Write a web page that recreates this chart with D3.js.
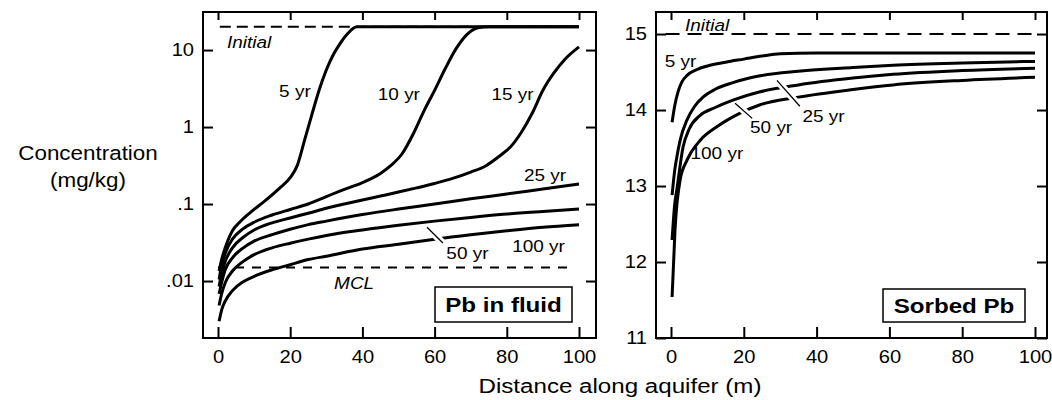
<!DOCTYPE html>
<html><head><meta charset="utf-8">
<script src="https://cdn.jsdelivr.net/npm/d3@7"></script>
<style>
html,body{margin:0;padding:0;background:#fff;}
svg{display:block;font-family:Arial,"Liberation Sans",Helvetica,sans-serif;}
</style></head><body>
<svg id="chart" width="1052" height="400"></svg>
<script>
// ---------------- DATA ----------------
const xTicks = [0, 20, 40, 60, 80, 100];
const fluidYTicks = [0.01, 0.1, 1, 10];
const fluidYTickLabels = [".01", ".1", "1", "10"];
const sorbedYTicks = [11, 12, 13, 14, 15];

const fluidInitial = 20;
const fluidMCL = 0.015;
const sorbedInitial = 15;

// Pb in fluid (mg/kg) vs distance (m)
const fluidDist5 = [0.3, 1, 2, 4, 6, 9, 13, 17, 20, 22, 24, 26, 28, 30, 32, 34, 36, 38.5, 60, 100];
const fluid5yr   = [0.0135, 0.019, 0.027, 0.045, 0.058, 0.078, 0.11, 0.16, 0.22, 0.32, 0.68, 1.45, 3.0, 5.5, 8.8, 12.5, 16.5, 20, 20, 20];
const fluidDist10 = [0.3, 1, 2, 4, 7, 10, 15, 20, 25, 30, 35, 40, 45, 48, 51, 54, 57, 60, 63, 66, 69, 72, 75, 100];
const fluid10yr   = [0.0105, 0.016, 0.023, 0.035, 0.048, 0.058, 0.072, 0.085, 0.10, 0.125, 0.155, 0.19, 0.25, 0.32, 0.45, 0.8, 1.6, 3.0, 5.8, 10.5, 16, 19.5, 20, 20];
const fluidDist15 = [0.3, 1, 2, 4, 7, 10, 15, 20, 25, 30, 35, 40, 45, 50, 55, 60, 65, 70, 74, 78, 81, 84, 87, 90, 93, 96, 100];
const fluid15yr   = [0.0085, 0.0125, 0.018, 0.027, 0.037, 0.046, 0.057, 0.066, 0.076, 0.088, 0.10, 0.113, 0.127, 0.143, 0.162, 0.185, 0.215, 0.26, 0.31, 0.42, 0.55, 0.85, 1.5, 3.0, 5.0, 7.5, 11];
const fluidDistLate = [0.3, 1, 2, 4, 7, 10, 15, 20, 25, 30, 40, 50, 60, 70, 80, 90, 100];
const fluid25yr  = [0.0068, 0.0095, 0.014, 0.02, 0.027, 0.033, 0.04, 0.047, 0.054, 0.060, 0.073, 0.086, 0.100, 0.117, 0.135, 0.157, 0.182];
const fluid50yr  = [0.0048, 0.0068, 0.0095, 0.0135, 0.018, 0.022, 0.027, 0.031, 0.035, 0.039, 0.046, 0.053, 0.060, 0.067, 0.074, 0.080, 0.086];
const fluid100yr = [0.003, 0.0042, 0.0055, 0.0075, 0.0098, 0.0115, 0.014, 0.0163, 0.019, 0.021, 0.026, 0.030, 0.035, 0.040, 0.045, 0.050, 0.054];

// Sorbed Pb vs distance (m)
const sorbedDist5 = [0.3, 1, 2, 3, 4.5, 7, 10, 15, 20, 25, 30, 40, 60, 80, 100];
const sorbed5yr   = [13.84, 14.05, 14.25, 14.37, 14.46, 14.53, 14.58, 14.63, 14.67, 14.71, 14.74, 14.75, 14.75, 14.75, 14.75];
const sorbedDist25 = [0.3, 1, 1.6, 2.5, 4.4, 6.5, 8.8, 12, 17, 24.5, 35, 50, 61, 80, 100];
const sorbed25yr   = [12.88, 13.2, 13.38, 13.6, 13.87, 14.05, 14.17, 14.27, 14.36, 14.45, 14.51, 14.56, 14.59, 14.62, 14.64];
const sorbedDist50 = [0.3, 1, 1.6, 3.3, 5, 8, 12, 17, 24.5, 35, 50, 61, 80, 100];
const sorbed50yr   = [12.29, 12.75, 12.95, 13.51, 13.75, 13.93, 14.03, 14.13, 14.24, 14.33, 14.42, 14.47, 14.52, 14.55];
const sorbedDist100 = [0.3, 1.1, 2.5, 4.4, 8, 12.6, 19, 24.5, 35, 50, 61, 80, 100];
const sorbed100yr   = [11.54, 12.42, 13.08, 13.34, 13.6, 13.78, 13.96, 14.07, 14.17, 14.27, 14.33, 14.39, 14.43];

// curve labels: [text, distance, value]
const fluidLabels = [["5 yr", 21.3, 2.45], ["10 yr", 50.1, 2.24], ["15 yr", 81.6, 2.24],
                     ["25 yr", 90.6, 0.2], ["50 yr", 69.1, 0.0193], ["100 yr", 88.8, 0.0238]];
const sorbedLabels = [["5 yr", 2.6, 14.57], ["25 yr", 41.9, 13.84], ["50 yr", 27.5, 13.70], ["100 yr", 12.6, 13.36]];
// leader lines: [d0, v0, d1, v1]
const fluidLeaders = [[57.9, 0.050, 62.3, 0.0312]];
const sorbedLeaders = [[29.1, 14.39, 35.4, 14.05], [17.6, 14.09, 22.3, 13.89]];

// ---------------- DRAWING ----------------
const SX = 1.15;
const svg = d3.select("#chart");

const L = {x0: 203, x1: 596, y0: 12, y1: 338, xr: [218, 579]};
const R = {x0: 656, x1: 1047, y0: 12, y1: 338, xr: [671, 1035]};

const xL = d3.scaleLinear().domain([0, 100]).range(L.xr);
const yL = d3.scaleLog().domain([0.00182, 31.2]).range([L.y1, L.y0]);
const xR = d3.scaleLinear().domain([0, 100]).range(R.xr);
const yR = d3.scaleLinear().domain([11, 15.29]).range([R.y1, R.y0]);

function txt(g, px, py, s, o) {
  o = o || {};
  return g.append("text")
    .attr("transform", `translate(${px},${py}) scale(${SX},1)`)
    .attr("text-anchor", o.anchor || "start")
    .attr("font-size", o.size || 16.5)
    .attr("font-weight", o.weight || "normal")
    .attr("font-style", o.style || "normal")
    .attr("fill", "#000")
    .text(s);
}

function drawAxes(P, x, y, yTicks, yFmt) {
  const g = svg.append("g");
  const styleTicks = sel => {
    sel.select(".domain").remove();
    sel.selectAll(".tick line").attr("stroke", "#000").attr("stroke-width", 2);
    sel.attr("font-family", null).attr("font-size", null);
  };
  g.append("g").attr("transform", `translate(0,${P.y1})`)
    .call(d3.axisBottom(x).tickValues(xTicks).tickSizeInner(-11).tickSizeOuter(0).tickPadding(13))
    .call(styleTicks)
    .call(s => s.selectAll(".tick text").attr("font-size", 17.5).attr("fill", "#000")
      .attr("transform", `scale(${SX},1)`));
  g.append("g").attr("transform", `translate(0,${P.y0})`)
    .call(d3.axisTop(x).tickValues(xTicks).tickSizeInner(-8).tickSizeOuter(0).tickFormat(""))
    .call(styleTicks);
  g.append("g").attr("transform", `translate(${P.x0},0)`)
    .call(d3.axisLeft(y).tickValues(yTicks).tickFormat(yFmt).tickSizeInner(-10).tickSizeOuter(0).tickPadding(9))
    .call(styleTicks)
    .call(s => s.selectAll(".tick text").attr("font-size", 17.5).attr("fill", "#000")
      .attr("x", -9 / SX).attr("transform", `scale(${SX},1)`));
  g.append("g").attr("transform", `translate(${P.x1},0)`)
    .call(d3.axisRight(y).tickValues(yTicks).tickSizeInner(-10).tickSizeOuter(0).tickFormat(""))
    .call(styleTicks);
  g.append("rect").attr("x", P.x0).attr("y", P.y0).attr("width", P.x1 - P.x0).attr("height", P.y1 - P.y0)
    .attr("fill", "none").attr("stroke", "#000").attr("stroke-width", 2);
}

function drawSeries(g, x, y, dists, vals) {
  const pts = dists.map((d, i) => [d, vals[i]]);
  const line = d3.line().x(p => x(p[0])).y(p => y(p[1])).curve(d3.curveMonotoneX);
  g.append("path").attr("d", line(pts)).attr("fill", "none").attr("stroke", "#000")
    .attr("stroke-width", 3).attr("stroke-linecap", "butt").attr("stroke-linejoin", "round");
}

function drawLeader(g, x, y, l, t0) {
  const [d0, v0, d1, v1] = l;
  const X0 = x(d0), Y0 = y(v0), X1 = x(d1), Y1 = y(v1);
  g.append("line").attr("x1", X0 + (X1 - X0) * t0).attr("y1", Y0 + (Y1 - Y0) * t0)
    .attr("x2", X1).attr("y2", Y1).attr("stroke", "#fff").attr("stroke-width", 7);
  g.append("line").attr("x1", X0).attr("y1", Y0).attr("x2", X1).attr("y2", Y1)
    .attr("stroke", "#000").attr("stroke-width", 1.3);
}

// ---- Left panel: Pb in fluid ----
{
  const g = svg.append("g");
  g.append("line").attr("x1", xL(0.5)).attr("x2", xL(100)).attr("y1", yL(fluidInitial)).attr("y2", yL(fluidInitial))
    .attr("stroke", "#000").attr("stroke-width", 2).attr("stroke-dasharray", "11,6");
  g.append("line").attr("x1", xL(0)).attr("x2", xL(98.5)).attr("y1", yL(fluidMCL)).attr("y2", yL(fluidMCL))
    .attr("stroke", "#000").attr("stroke-width", 2).attr("stroke-dasharray", "9,8");
  drawSeries(g, xL, yL, fluidDist5, fluid5yr);
  drawSeries(g, xL, yL, fluidDist10, fluid10yr);
  drawSeries(g, xL, yL, fluidDist15, fluid15yr);
  drawSeries(g, xL, yL, fluidDistLate, fluid25yr);
  drawSeries(g, xL, yL, fluidDistLate, fluid50yr);
  drawSeries(g, xL, yL, fluidDistLate, fluid100yr);
  fluidLeaders.forEach(l => drawLeader(g, xL, yL, l, 0.3));
  fluidLabels.forEach(([s, d, v]) => txt(g, xL(d), yL(v), s, {anchor: "middle", size: 16.5}));
  txt(g, xL(2.5), yL(10.6), "Initial", {style: "italic", size: 16.5});
  txt(g, xL(37.7), yL(0.00787), "MCL", {style: "italic", size: 16.5, anchor: "middle"});
  g.append("rect").attr("x", 435).attr("y", 287).attr("width", 137).attr("height", 35)
    .attr("fill", "#fff").attr("stroke", "#000").attr("stroke-width", 1.5);
  txt(g, 503.5, 312, "Pb in fluid", {anchor: "middle", size: 21, weight: "bold"});
}
drawAxes(L, xL, yL, fluidYTicks, (d, i) => fluidYTickLabels[i]);

// ---- Right panel: Sorbed Pb ----
{
  const g = svg.append("g");
  g.append("line").attr("x1", xR(-1.5)).attr("x2", xR(99.5)).attr("y1", yR(sorbedInitial)).attr("y2", yR(sorbedInitial))
    .attr("stroke", "#000").attr("stroke-width", 2).attr("stroke-dasharray", "14,8");
  drawSeries(g, xR, yR, sorbedDist5, sorbed5yr);
  drawSeries(g, xR, yR, sorbedDist25, sorbed25yr);
  drawSeries(g, xR, yR, sorbedDist50, sorbed50yr);
  drawSeries(g, xR, yR, sorbedDist100, sorbed100yr);
  drawLeader(g, xR, yR, sorbedLeaders[0], 0.15);
  drawLeader(g, xR, yR, sorbedLeaders[1], 0.25);
  sorbedLabels.forEach(([s, d, v]) => txt(g, xR(d), yR(v), s, {anchor: "middle", size: 16.5}));
  txt(g, xR(3.85), yR(15.04), "Initial", {style: "italic", size: 16.5});
  g.append("rect").attr("x", 883).attr("y", 289).attr("width", 142).attr("height", 33)
    .attr("fill", "#fff").attr("stroke", "#000").attr("stroke-width", 1.5);
  txt(g, 954, 313, "Sorbed Pb", {anchor: "middle", size: 21, weight: "bold"});
}
drawAxes(R, xR, yR, sorbedYTicks, d3.format("d"));

// ---- Axis titles ----
txt(svg, 88, 160, "Concentration", {anchor: "middle", size: 19.5});
txt(svg, 88, 187, "(mg/kg)", {anchor: "middle", size: 19.5});
txt(svg, 620, 393, "Distance along aquifer (m)", {anchor: "middle", size: 21});
</script>
</body></html>
